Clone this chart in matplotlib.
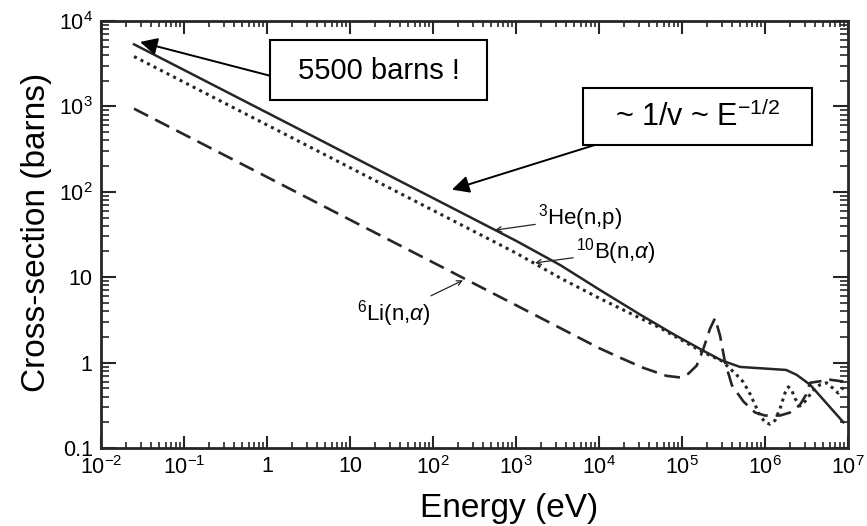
import numpy as np
import matplotlib
matplotlib.use('Agg')
import matplotlib.pyplot as plt
from matplotlib.patches import Rectangle
from matplotlib.ticker import LogLocator, NullFormatter

plt.rcParams['font.family'] = ['Liberation Sans', 'DejaVu Sans']
plt.rcParams['mathtext.fontset'] = 'custom'
plt.rcParams['mathtext.rm'] = 'Liberation Sans'
plt.rcParams['mathtext.it'] = 'Liberation Sans:italic'
plt.rcParams['mathtext.bf'] = 'Liberation Sans:bold'

# 3He(n,p) - solid
he_energy = [0.025, 0.1, 1, 10, 100, 1e3, 3.4e3, 1.0e4, 3.1e4, 7.9e4, 1.8e5,
             3.0e5, 5.0e5, 1.8e6, 2.4e6, 3.5e6, 8.8e6]
he_sigma = [5330, 2670, 845, 267, 84.5, 26.7, 13.9, 7.2, 3.67, 2.15, 1.38,
            1.06, 0.89, 0.82, 0.72, 0.55, 0.20]

# 10B(n,alpha) - dotted
b_energy = [0.025, 0.1, 1, 10, 100, 1e3, 3.4e3, 1.0e4, 5.4e4, 1.8e5, 3.0e5,
            3.8e5, 4.6e5, 5.5e5, 6.6e5, 7.6e5, 8.7e5, 1.0e6, 1.15e6, 1.32e6,
            1.52e6, 1.74e6, 1.91e6, 2.09e6, 2.3e6, 2.64e6, 3.03e6, 3.48e6,
            4.0e6, 4.6e6, 5.5e6, 6.6e6, 7.6e6, 8.8e6]
b_sigma = [3840, 1920, 607, 192, 60.7, 19.2, 9.8, 5.7, 2.56, 1.32, 1.05,
           0.85, 0.71, 0.59, 0.43, 0.32, 0.24, 0.20, 0.19, 0.21,
           0.29, 0.44, 0.52, 0.48, 0.38, 0.31, 0.35, 0.42,
           0.50, 0.55, 0.58, 0.50, 0.44, 0.51]

# 6Li(n,alpha) - dashed
li_energy = [0.025, 0.1, 1, 10, 100, 1e3, 1.0e4, 1.8e4, 3.4e4, 6.5e4, 9.5e4,
             1.19e5, 1.5e5, 1.81e5, 2.17e5, 2.5e5, 2.87e5, 3.3e5, 4.0e5,
             5.5e5, 7.6e5, 1.0e6, 1.52e6, 2.0e6, 2.64e6, 3.12e6, 3.48e6,
             4.36e6, 6.1e6, 8.8e6]
li_sigma = [940, 470, 149, 47, 14.9, 4.7, 1.48, 1.14, 0.87, 0.70, 0.67,
            0.74, 0.92, 1.45, 2.48, 3.31, 2.08, 1.01, 0.54,
            0.35, 0.26, 0.24, 0.24, 0.26, 0.32, 0.42, 0.58,
            0.60, 0.63, 0.60]

x_ticks = [1e-2, 1e-1, 1, 10, 1e2, 1e3, 1e4, 1e5, 1e6, 1e7]
x_labels = ['10$^{-2}$', '10$^{-1}$', '1', '10', '10$^{2}$', '10$^{3}$',
            '10$^{4}$', '10$^{5}$', '10$^{6}$', '10$^{7}$']
y_ticks = [0.1, 1, 10, 1e2, 1e3, 1e4]
y_labels = ['0.1', '1', '10', '10$^{2}$', '10$^{3}$', '10$^{4}$']

ink = '#262626'
W, H = 867, 526

fig = plt.figure(figsize=(W / 100, H / 100), dpi=100)
ax = fig.add_axes([101 / W, 1 - 448 / H, 747 / W, 427 / H])

ax.plot(he_energy, he_sigma, color=ink, lw=1.8, ls='-')
ax.plot(b_energy, b_sigma, color=ink, lw=2.2, ls=(0, (1, 1.4)))
ax.plot(li_energy, li_sigma, color=ink, lw=1.9, ls=(0, (6, 3)))

ax.set_xscale('log')
ax.set_yscale('log')
ax.set_xlim(1e-2, 1e7)
ax.set_ylim(0.1, 1e4)

ax.set_xticks(x_ticks)
ax.set_xticklabels(x_labels)
ax.set_yticks(y_ticks)
ax.set_yticklabels(y_labels)
ax.xaxis.set_minor_locator(LogLocator(base=10, subs=np.arange(2, 10), numticks=100))
ax.yaxis.set_minor_locator(LogLocator(base=10, subs=np.arange(2, 10), numticks=100))
ax.xaxis.set_minor_formatter(NullFormatter())
ax.yaxis.set_minor_formatter(NullFormatter())

ax.tick_params(which='both', direction='in', top=True, right=True, color=ink)
ax.tick_params(which='major', length=9, width=1.5, labelsize=15.5, pad=6)
ax.tick_params(which='minor', length=4.5, width=1.2)
ax.tick_params(axis='y', which='major', length=11)
ax.tick_params(axis='y', which='minor', length=5.5)
for s in ax.spines.values():
    s.set_linewidth(2.0)
    s.set_color(ink)

ax.set_xlabel('Energy (eV)', fontsize=24)
ax.set_ylabel('Cross-section (barns)', fontsize=24)
ax.xaxis.set_label_coords(0.546, -0.105)
ax.yaxis.set_label_coords(-0.066, 0.506)

# curve labels
small_arrow = dict(arrowstyle='->', lw=0.9, color=ink, mutation_scale=9,
                   shrinkA=0, shrinkB=0)
ax.annotate('$^{3}$He(n,p)', xy=(558, 35.6), xycoords='data',
            xytext=(538 / W, 1 - 218 / H), textcoords='figure fraction',
            fontsize=16, ha='left', va='center', arrowprops=small_arrow)
ax.annotate('$^{10}$B(n,$\\alpha$)', xy=(1694, 14.7), xycoords='data',
            xytext=(576 / W, 1 - 252 / H), textcoords='figure fraction',
            fontsize=16, ha='left', va='center', arrowprops=small_arrow)
ax.annotate('$^{6}$Li(n,$\\alpha$)', xy=(230, 9.2), xycoords='data',
            xytext=(430 / W, 1 - 314 / H), textcoords='figure fraction',
            fontsize=16, ha='right', va='center', arrowprops=small_arrow)

# boxed call-outs
big_arrow = dict(arrowstyle='-|>', lw=1.4, color='black', mutation_scale=26,
                 shrinkA=0, shrinkB=0)
fig.patches.append(Rectangle((270 / W, 1 - 100 / H), 217 / W, 60 / H,
                             transform=fig.transFigure, fc='white', ec='black',
                             lw=1.5, zorder=5))
fig.text(378.5 / W, 1 - 71 / H, '5500 barns !', fontsize=21, ha='center',
         va='center', zorder=6)
ax.annotate('', xy=(0.0295, 5680), xycoords='data',
            xytext=(271 / W, 1 - 76 / H), textcoords='figure fraction',
            arrowprops=big_arrow)

fig.patches.append(Rectangle((583 / W, 1 - 145 / H), 229 / W, 57 / H,
                             transform=fig.transFigure, fc='white', ec='black',
                             lw=1.5, zorder=5))
fig.text(697.5 / W, 1 - 117 / H, '~ 1/v ~ E$^{-1/2}$', fontsize=22,
         ha='center', va='center', zorder=6)
ax.annotate('', xy=(169, 106), xycoords='data',
            xytext=(598 / W, 1 - 144 / H), textcoords='figure fraction',
            arrowprops=big_arrow)

fig.savefig('out.png', dpi=100)
